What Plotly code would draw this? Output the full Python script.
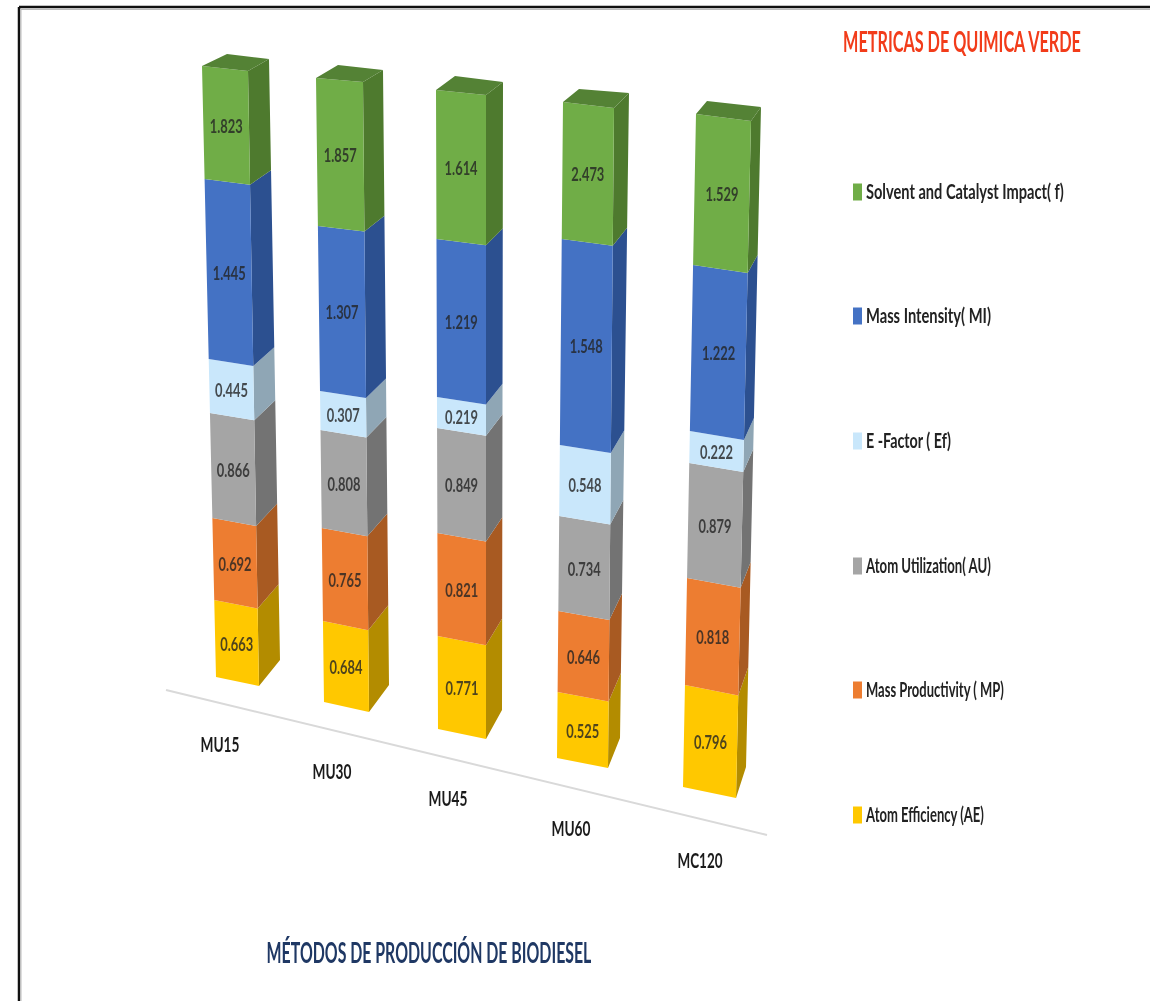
import json
import plotly.graph_objects as go

# ---------- data ----------
CATEGORIES = ["MU15", "MU30", "MU45", "MU60", "MC120"]

# printed data labels
LABEL_AE = [0.663, 0.684, 0.771, 0.525, 0.796]
LABEL_MP = [0.692, 0.765, 0.821, 0.646, 0.818]
LABEL_AU = [0.866, 0.808, 0.849, 0.734, 0.879]
LABEL_EF = [0.445, 0.307, 0.219, 0.548, 0.222]
LABEL_MI = [1.445, 1.307, 1.219, 1.548, 1.222]
LABEL_F = [1.823, 1.857, 1.614, 2.473, 1.529]

# drawn segment lengths (in the picture they do not follow the printed labels)
DRAWN_AE = [0.77, 0.81, 0.93, 0.66, 1.02]
DRAWN_MP = [0.82, 0.93, 1.03, 0.81, 1.07]
DRAWN_AU = [1.05, 0.98, 1.05, 0.95, 1.15]
DRAWN_EF = [0.54, 0.39, 0.31, 0.71, 0.32]
DRAWN_MI = [1.80, 1.65, 1.58, 2.06, 1.66]
DRAWN_F = [1.13, 1.48, 1.49, 1.37, 1.51]

SERIES_NAMES = [
    "Atom Efficiency (AE)",
    "Mass Productivity ( MP)",
    "Atom Utilization( AU)",
    "E -Factor ( Ef)",
    "Mass Intensity( MI)",
    "Solvent and Catalyst Impact( f)",
]
TITLE_RIGHT = "METRICAS DE QUIMICA VERDE"
TITLE_BOTTOM = "MÉTODOS DE PRODUCCIÓN DE BIODIESEL"
LABELS = [LABEL_AE, LABEL_MP, LABEL_AU, LABEL_EF, LABEL_MI, LABEL_F]
DRAWN = [DRAWN_AE, DRAWN_MP, DRAWN_AU, DRAWN_EF, DRAWN_MI, DRAWN_F]

# ---------- styles ----------
FRONT = ["#FFC800", "#ED7D31", "#A5A5A5", "#C9E7FB", "#4472C4", "#70AD47"]
SIDE = ["#B38C00", "#A85A22", "#737373", "#8FA6B5", "#2C5090", "#4E7A2E"]
TOP_COLOR = "#548235"
FONT = "Lato"

# ---------- oblique projection of the columns (one entry per column) ----------
# each vertical edge runs (x, y) bottom -> (x, y) top in the page frame
EDGE_FRONT_LEFT = [((216, 677), (202, 66)), ((324, 702), (316, 78)), ((438, 729), (436, 90)),
                   ((557, 758), (563, 102)), ((683, 787), (696, 114))]
EDGE_FRONT_RIGHT = [((259, 686), (248, 71)), ((369, 712), (363, 82)), ((486, 739), (486, 95)),
                    ((608, 768), (614, 108)), ((736, 798), (751, 121))]
EDGE_BACK_RIGHT = [((280, 660), (269, 59)), ((389, 685), (383, 70)), ((502, 710), (503, 82)),
                   ((620, 738), (629, 93)), ((746, 767), (761, 107))]
BACK_LEFT_TOP = [(227, 54), (338, 65), (455, 76), (579, 89), (707, 101)]

CATEGORY_POS = [(220, 747), (332, 774), (448, 801), (571, 831), (700, 863)]
LEGEND_Y = [815, 690, 566, 441, 316, 192]

# text is narrow in the reference: rendered width in px for each string
TEXT_WIDTHS = {
    "Atom Efficiency (AE)": 118, "Mass Productivity ( MP)": 138, "Atom Utilization( AU)": 125,
    "E -Factor ( Ef)": 85, "Mass Intensity( MI)": 125, "Solvent and Catalyst Impact( f)": 198,
    "MU15": 39, "MU30": 39, "MU45": 39, "MU60": 39, "MC120": 45,
    TITLE_RIGHT: 238, TITLE_BOTTOM: 325,
}
LABEL_WIDTH = 33


def on_edge(edge, t):
    (x0, y0), (x1, y1) = edge
    return x0 + (x1 - x0) * t, y0 + (y1 - y0) * t


fig = go.Figure()
n_bars = len(CATEGORIES)
totals = [sum(s[i] for s in DRAWN) for i in range(n_bars)]
cum = [0.0] * n_bars
label_x, label_y, label_text = [], [], []

for s, name in enumerate(SERIES_NAMES):
    fx, fy, sx, sy = [], [], [], []
    for i in range(n_bars):
        t0 = cum[i] / totals[i]
        t1 = (cum[i] + DRAWN[s][i]) / totals[i]
        cum[i] += DRAWN[s][i]
        a, b = on_edge(EDGE_FRONT_LEFT[i], t0), on_edge(EDGE_FRONT_LEFT[i], t1)
        c, d = on_edge(EDGE_FRONT_RIGHT[i], t1), on_edge(EDGE_FRONT_RIGHT[i], t0)
        e, g = on_edge(EDGE_BACK_RIGHT[i], t1), on_edge(EDGE_BACK_RIGHT[i], t0)
        fx += [a[0], b[0], c[0], d[0], a[0], None]
        fy += [a[1], b[1], c[1], d[1], a[1], None]
        sx += [d[0], c[0], e[0], g[0], d[0], None]
        sy += [d[1], c[1], e[1], g[1], d[1], None]
        label_x.append((a[0] + b[0] + c[0] + d[0]) / 4)
        label_y.append((a[1] + b[1] + c[1] + d[1]) / 4 + 3)
        label_text.append(f"{LABELS[s][i]:.3f}")
    fig.add_trace(go.Scatter(x=sx, y=sy, mode="none", fill="toself", fillcolor=SIDE[s],
                             hoverinfo="skip", showlegend=False))
    fig.add_trace(go.Scatter(x=fx, y=fy, mode="none", fill="toself", fillcolor=FRONT[s],
                             name=name, hoverinfo="name", showlegend=False))

# top faces
tx, ty = [], []
for i in range(n_bars):
    p = [EDGE_FRONT_LEFT[i][1], EDGE_FRONT_RIGHT[i][1], EDGE_BACK_RIGHT[i][1], BACK_LEFT_TOP[i], EDGE_FRONT_LEFT[i][1]]
    tx += [q[0] for q in p] + [None]
    ty += [q[1] for q in p] + [None]
fig.add_trace(go.Scatter(x=tx, y=ty, mode="none", fill="toself", fillcolor=TOP_COLOR,
                         hoverinfo="skip", showlegend=False))

# data labels
fig.add_trace(go.Scatter(x=label_x, y=label_y, mode="text", text=label_text,
                         textposition="middle center", hoverinfo="skip", showlegend=False,
                         textfont=dict(family=FONT, size=19, color="rgba(35,35,35,0.8)", weight="bold")))

# category labels
fig.add_trace(go.Scatter(x=[p[0] for p in CATEGORY_POS], y=[p[1] for p in CATEGORY_POS], mode="text",
                         text=CATEGORIES, textposition="middle center", hoverinfo="skip", showlegend=False,
                         textfont=dict(family=FONT, size=21, color="#1a1a1a", weight="bold")))

# legend text
fig.add_trace(go.Scatter(x=[866] * 6, y=[y + 2 for y in LEGEND_Y], mode="text", text=SERIES_NAMES,
                         textposition="middle right", hoverinfo="skip", showlegend=False,
                         textfont=dict(family=FONT, size=20, color="#222222", weight="bold")))

# titles
fig.add_trace(go.Scatter(x=[962], y=[45], mode="text", text=[TITLE_RIGHT],
                         textposition="middle center", hoverinfo="skip", showlegend=False,
                         textfont=dict(family=FONT, size=28, color="#F23C1A", weight="bold")))
fig.add_trace(go.Scatter(x=[429], y=[956], mode="text", text=[TITLE_BOTTOM],
                         textposition="middle center", hoverinfo="skip", showlegend=False,
                         textfont=dict(family=FONT, size=28, color="#1F3864", weight="bold")))

shapes = [
    # category axis line
    dict(type="line", x0=166, y0=690, x1=767, y1=835, line=dict(color="#D9D9D9", width=2), layer="below"),
    # picture frame
    dict(type="line", x0=19, y0=7, x1=1150, y1=7, line=dict(color="#111111", width=2.5)),
    dict(type="line", x0=19, y0=7, x1=19, y1=1001, line=dict(color="#111111", width=2.5)),
    dict(type="line", x0=21, y0=9.5, x1=1150, y1=9.5, line=dict(color="#BBBBBB", width=1)),
    dict(type="line", x0=21, y0=9.5, x1=21, y1=1001, line=dict(color="#BBBBBB", width=1)),
]
for y, col in zip(LEGEND_Y, FRONT):
    shapes.append(dict(type="rect", x0=853, x1=862, y0=y - 8.5, y1=y + 8.5, fillcolor=col, line=dict(width=0)))

fig.update_layout(
    width=1150, height=1001, margin=dict(l=0, r=0, t=0, b=0),
    paper_bgcolor="white", plot_bgcolor="white", showlegend=False,
    xaxis=dict(range=[0, 1150], visible=False, fixedrange=True),
    yaxis=dict(range=[1001, 0], visible=False, fixedrange=True),
    shapes=shapes,
)

POST = """
document.body.style.margin='0';document.body.style.overflow='hidden';
var W = %s, D = %d;
function squeeze(){
  document.querySelectorAll('svg text').forEach(function(t){
    if (!t.dataset.n) {
      t.dataset.n = t.getComputedTextLength();
      t.dataset.b = t.getAttribute('transform') || '';
    }
    var key = t.textContent, w = (key in W) ? W[key] : D;
    var k = w / parseFloat(t.dataset.n), x = parseFloat(t.getAttribute('x')) || 0;
    t.setAttribute('transform', t.dataset.b + ' translate(' + x + ' 0) scale(' + k + ' 1) translate(' + (-x) + ' 0)');
  });
  var g = document.querySelector('.js-plotly-plot');
  if (g) { g.style.filter = 'blur(0.6px)'; }
}
squeeze(); setTimeout(squeeze, 50); setTimeout(squeeze, 300);
""" % (json.dumps(TEXT_WIDTHS, ensure_ascii=False), LABEL_WIDTH)

fig.write_html("out.html", config={"displayModeBar": False}, post_script=POST)
